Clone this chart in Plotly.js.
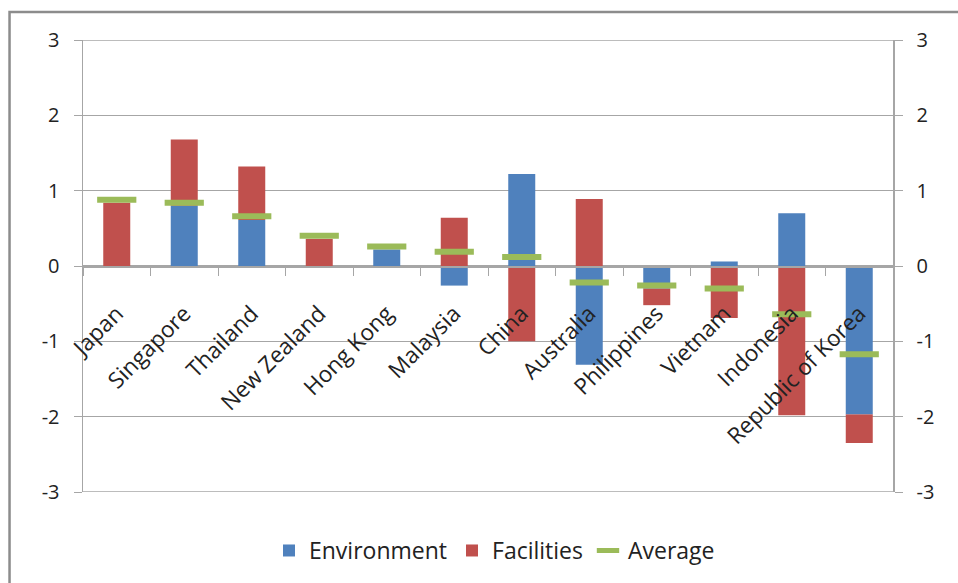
<!DOCTYPE html>
<html>
<head>
<meta charset="utf-8">
<script src="https://cdn.plot.ly/plotly-3.0.1.min.js"></script>
<style>html,body{margin:0;padding:0;background:#fff;}#chart{width:958px;height:583px;}</style>
</head>
<body>
<div id="chart"></div>
<script>
const countries = ["Japan","Singapore","Thailand","New Zealand","Hong Kong","Malaysia","China","Australia","Philippines","Vietnam","Indonesia","Republic of Korea"];
const environment = [0, 0.80, 0.61, 0, 0.22, -0.26, 1.22, -1.31, -0.30, 0.06, 0.70, -1.97];
const facilities = [0.84, 0.88, 0.71, 0.36, 0, 0.64, -1.00, 0.89, -0.22, -0.69, -1.98, -0.38];
const average = [0.88, 0.84, 0.66, 0.40, 0.26, 0.19, 0.12, -0.22, -0.26, -0.30, -0.64, -1.17];
const yTickVals = [-3,-2,-1,0,1,2,3];
const yTickText = ["-3","-2","-1","0","1","2","3"];

const gray = "#a6a6a6";
const fontFam = "'Open Sans', Lato, sans-serif";

const data = [
  {type:"bar", name:"Environment", x:countries, y:environment, marker:{color:"#4f81bd"}},
  {type:"bar", name:"Facilities", x:countries, y:facilities, marker:{color:"#c0504d"}},
  {type:"scatter", mode:"markers", name:"Average", x:countries, y:average,
   marker:{symbol:"line-ew", size:28, color:"#9bbb59", line:{color:"#9bbb59", width:6}}},
  {type:"scatter", mode:"markers", x:countries, y:average, yaxis:"y2", showlegend:false, hoverinfo:"skip",
   marker:{opacity:0}}
];

const layout = {
  width:958, height:583,
  margin:{l:83, r:65, t:40, b:90},
  paper_bgcolor:"#fff", plot_bgcolor:"#fff",
  font:{family:fontFam, size:20, color:"#222"},
  barmode:"relative",
  bargap:0.6,
  showlegend:true,
  legend:{orientation:"h", x:0.508, xanchor:"center", y:-0.127, yanchor:"middle",
          font:{size:23}, traceorder:"normal"},
  xaxis:{type:"category", anchor:"free", position:0.5, showline:true, linecolor:gray, linewidth:1.5,
         ticks:"outside", ticklen:8, tickcolor:gray, tickson:"boundaries", tickangle:-45,
         showgrid:false, zeroline:false, tickfont:{size:22.5}, range:[-0.5,11.5], ticklabelstandoff:24},
  yaxis:{range:[-3,3], tickvals:yTickVals, ticktext:yTickText, showline:true, linecolor:gray, linewidth:1.5,
         ticks:"outside", ticklen:8, tickcolor:gray, showgrid:true, gridcolor:gray, gridwidth:1.5,
         zeroline:false, tickfont:{size:20}, ticklabelstandoff:10},
  yaxis2:{range:[-3,3], tickvals:yTickVals, ticktext:yTickText, overlaying:"y", side:"right", showline:true,
          linecolor:gray, linewidth:1.5, ticks:"outside", ticklen:8, tickcolor:gray, showgrid:false,
          zeroline:false, tickfont:{size:20}, ticklabelstandoff:10},
  shapes:[
    {type:"rect", xref:"paper", yref:"paper", x0:-0.0907, x1:1.09, y0:-0.25, y1:1.0618,
     line:{color:"#8c8c8c", width:2.5}, fillcolor:"rgba(0,0,0,0)", layer:"below"},
    {type:"line", xref:"paper", yref:"y", x0:0, x1:1, y0:-3, y1:-3, line:{color:gray, width:1.5}},
    {type:"line", xref:"paper", yref:"y", x0:0, x1:1, y0:3, y1:3, line:{color:gray, width:1.5}}
  ]
};

Plotly.newPlot("chart", data, layout, {displayModeBar:false, staticPlot:true});
</script>
</body>
</html>
